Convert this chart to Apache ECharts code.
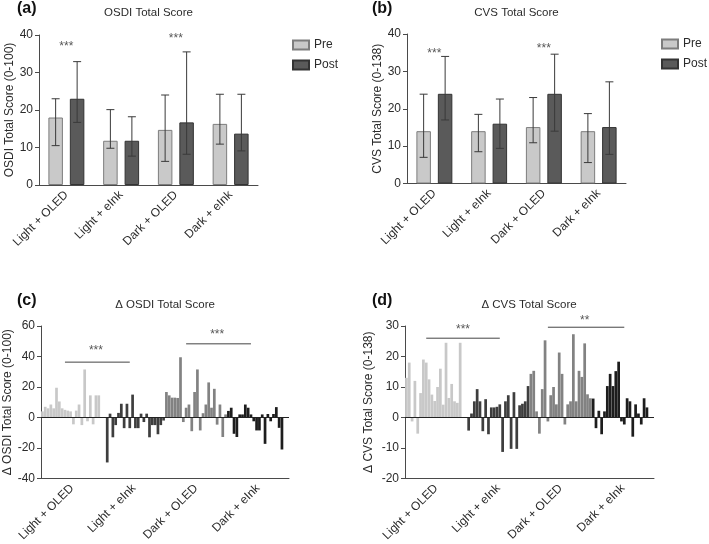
<!DOCTYPE html>
<html><head><meta charset="utf-8">
<script src="https://cdn.jsdelivr.net/npm/echarts@6/dist/echarts.min.js"></script>
<style>html,body{margin:0;padding:0;background:#fff}#c{width:709px;height:544px}</style>
</head><body><div id="c"></div>
<script>
// ---------- data ----------
const groups = ['Light + OLED', 'Light + eInk', 'Dark + OLED', 'Dark + eInk'];

// (a) OSDI
const osdiPre = [18, 11.8, 14.7, 16.3];
const osdiPreLow = [10.5, 9.8, 6.3, 10.9];
const osdiPreHigh = [23, 20.1, 24, 24.2];
const osdiPost = [23, 11.8, 16.7, 13.7];
const osdiPostLow = [16.7, 7.7, 8.2, 9.1];
const osdiPostHigh = [32.9, 18.2, 35.5, 24.2];
const osdiStars = [[0, 37.7], [2, 39.9]];

// (b) CVS
const cvsPre = [14, 14, 15.1, 14];
const cvsPreLow = [7, 8.5, 10.9, 5.6];
const cvsPreHigh = [23.9, 18.5, 23, 18.7];
const cvsPost = [24, 16, 24, 15.1];
const cvsPostLow = [17, 9.4, 14, 7.8];
const cvsPostHigh = [34, 22.6, 34.6, 27.2];
const cvsStars = [[0, 35.6], [2, 37]];

// (c) delta OSDI, per subject
const dOsdiLightOLED = [4, 7, 6, 8.5, 6, 19.5, 10.5, 6, 5, 4.5, 4, -4.5, 4.5, 8.5, -5, 31.5, -2.5, 14.5, -4.5, 14.5, 14.5, 0];
const dOsdiLightEInk = [0, -29.5, 2.5, -13, -5, 3, 9, -7, 9, -7, 15, -7, -7, 2.5, -3, 2.5, -13, -5, -5, -11, -5, -2];
const dOsdiDarkOLED = [16.7, 14.5, 13, 13, 12.8, 39.5, -3, 6.4, 8.5, -9, 16.7, 31.5, -8.5, 2.8, 8.5, 23, 6.4, 18.8, -4.7, 8.5, -12.8, 2];
const dOsdiDarkEInk = [4.3, 6.4, -10.7, -12.8, 2, 2, 8.5, 6.4, 2, -2.5, -8.5, -8.5, 2, -17.3, 2.3, -2.5, 2.3, 6.8, -6.8, -21, 0, 0];
const dOsdiBrackets = [[8, 31, 36.3], [51, 74, 48.3]];
const dOsdiStars = [[19, 45.7, '***'], [62, 56.2, '***']];

// (d) delta CVS, per subject
const dCvsLightOLED = [13, 18, -1.3, 12, -5.3, 8, 19, 18, 12.5, 7.5, 5.4, 10, 16, 4.2, 24.5, 6.4, 11, 5.3, 4.8, 24.5, 0, 0];
const dCvsLightEInk = [-4.3, 1.3, 5.3, 9.3, 5.3, -4.5, 6, -5.5, 3.3, 3.3, 3.5, 4.3, -11.3, 5.3, 7.3, -10.3, 8.3, -10.3, 4, 4.5, 5.3, 10.3];
const dCvsDarkOLED = [14.3, 15.3, 2, -5.3, 9.3, 25.3, -1.3, 7.3, 10, 4.3, 21.3, 14.3, -2.3, 4.3, 5.3, 27.3, 5.3, 15.3, 13.3, 24.3, 7.6, 6.3];
const dCvsDarkEInk = [6.2, -3.5, 2.2, -5.5, 2, 10.3, 14.3, 10.3, 15.2, 18.3, -1.3, -2.3, 6.3, 5.3, -6.3, 4.3, 1.3, -2.3, 6.3, 3.3, 0, 0];
const dCvsBrackets = [[7, 33, 26], [50, 77, 29.6]];
const dCvsStars = [[20, 29.7, '***'], [63, 32.7, '**']];

// ---------- style ----------
const FONT = "'Liberation Sans', Arial, Helvetica, sans-serif";
const TXT = '#2b2b2b';
const AX = '#4a4a4a';
const PRE_C = '#c9c9c9', PRE_B = '#7d7d7d';
const POST_C = '#5a5a5a', POST_B = '#333333';
const GROUP_COLORS = ['#c8c8c8', '#3e3e3e', '#828282', '#1d1d1d'];
const BAR_W = 14.5, BAR_OFF = 10.75;

const grids = [
  {left: 39, top: 35, width: 219, height: 150},
  {left: 407, top: 34, width: 219, height: 149.5},
  {left: 41, top: 326, width: 248, height: 156},
  {left: 405, top: 326, width: 249, height: 153}
];

function catAxis(gi, show) {
  return {
    type: 'category', gridIndex: gi, data: groups, show: show !== false,
    axisLine: {onZero: false, lineStyle: {color: AX, width: 1}},
    axisTick: {alignWithLabel: true, length: 4, lineStyle: {color: AX}},
    axisLabel: {rotate: 45, fontSize: 12, color: TXT, fontFamily: FONT, margin: 8, interval: 0}
  };
}
function subjAxis(gi, n) {
  const names = [];
  groups.forEach(g => { for (let i = 0; i < n; i++) names.push(g + ' #' + (i + 1)); });
  return {type: 'category', gridIndex: gi, data: names, show: false, boundaryGap: true};
}
function valAxis(gi, min, max, interval, name, gap) {
  return {
    type: 'value', gridIndex: gi, min: min, max: max, interval: interval,
    name: name, nameLocation: 'middle', nameRotate: 90, nameGap: gap,
    nameTextStyle: {fontSize: 12, color: TXT, fontFamily: FONT},
    axisLine: {show: true, lineStyle: {color: AX, width: 1}},
    axisTick: {show: true, length: 4, lineStyle: {color: AX}},
    axisLabel: {fontSize: 12, color: TXT, fontFamily: FONT, margin: 6},
    splitLine: {show: false}
  };
}

function errSeries(xi, yi, lows, highs, offset) {
  return {
    type: 'custom', xAxisIndex: xi, yAxisIndex: yi, z: 6, silent: true, clip: false,
    data: lows.map((l, i) => [i, l, highs[i]]),
    renderItem: function (params, api) {
      const lo = api.coord([api.value(0), api.value(1)]);
      const hi = api.coord([api.value(0), api.value(2)]);
      const x = lo[0] + offset;
      const cap = 4;
      const st = {stroke: '#3a3a3a', lineWidth: 1};
      return {type: 'group', children: [
        {type: 'line', shape: {x1: x, y1: lo[1], x2: x, y2: hi[1]}, style: st},
        {type: 'line', shape: {x1: x - cap, y1: lo[1], x2: x + cap, y2: lo[1]}, style: st},
        {type: 'line', shape: {x1: x - cap, y1: hi[1], x2: x + cap, y2: hi[1]}, style: st}
      ]};
    }
  };
}
function starSeries(xi, yi, pts) {
  return {
    type: 'scatter', xAxisIndex: xi, yAxisIndex: yi, silent: true, clip: false, z: 7,
    symbolSize: 1, itemStyle: {color: 'rgba(0,0,0,0)'},
    data: pts.map(p => ({value: [p[0], p[1]], label: {formatter: p[2] || '***'}})),
    label: {show: true, position: 'inside', offset: [0, 3], fontSize: 12, color: TXT, fontFamily: FONT}
  };
}
function groupedSeries(xi, yi, pre, post) {
  return [
    {name: 'Pre', type: 'bar', xAxisIndex: xi, yAxisIndex: yi, data: pre, barWidth: BAR_W, barGap: '48%',
     itemStyle: {color: PRE_C, borderColor: PRE_B, borderWidth: 1}},
    {name: 'Post', type: 'bar', xAxisIndex: xi, yAxisIndex: yi, data: post, barWidth: BAR_W, barGap: '48%',
     itemStyle: {color: POST_C, borderColor: POST_B, borderWidth: 1}}
  ];
}
function deltaSeries(xi, yi, arrs, brackets, stars) {
  const data = [];
  arrs.forEach((arr, g) => arr.forEach(v => data.push({value: v, itemStyle: {color: GROUP_COLORS[g]}})));
  const out = [{
    type: 'bar', xAxisIndex: xi, yAxisIndex: yi, data: data, barCategoryGap: '4%', silent: true,
    markLine: {silent: true, symbol: 'none', label: {show: false},
      lineStyle: {color: '#222', width: 1, type: 'solid'}, data: [{yAxis: 0}]}
  }];
  brackets.forEach(b => out.push({
    type: 'line', xAxisIndex: xi, yAxisIndex: yi, silent: true, clip: false, z: 6,
    data: [[b[0], b[2]], [b[1], b[2]]],
    symbol: 'rect', symbolSize: [1.2, 7], itemStyle: {color: '#444'},
    lineStyle: {color: '#444', width: 1}
  }));
  out.push(starSeries(xi, yi, stars));
  return out;
}
function legendAt(left, top) {
  return {data: ['Pre', 'Post'], orient: 'vertical', left: left, top: top, padding: 0,
    icon: 'rect', itemWidth: 16, itemHeight: 9, itemGap: 8,
    textStyle: {fontSize: 12, color: TXT, fontFamily: FONT}, selectedMode: false};
}

const N = dOsdiLightOLED.length;
const option = {
  animation: false,
  backgroundColor: '#ffffff',
  textStyle: {fontFamily: FONT},
  grid: grids,
  xAxis: [
    catAxis(0), catAxis(1),
    catAxis(2), subjAxis(2, N),
    catAxis(3), subjAxis(3, N)
  ],
  yAxis: [
    valAxis(0, 0, 40, 10, 'OSDI Total Score (0-100)', 21),
    valAxis(1, 0, 40, 10, 'CVS Total Score (0-138)', 19),
    valAxis(2, -40, 60, 20, 'Δ OSDI Total Score (0-100)', 24),
    valAxis(3, -20, 30, 10, 'Δ CVS Total Score (0-138)', 30)
  ],
  legend: [legendAt(292, 39), legendAt(661, 38)],
  graphic: [
    {type: 'text', left: 17, top: 1, style: {text: '(a)', font: 'bold 16px ' + FONT, fill: '#111'}},
    {type: 'text', left: 372, top: 1, style: {text: '(b)', font: 'bold 16px ' + FONT, fill: '#111'}},
    {type: 'text', left: 17, top: 293, style: {text: '(c)', font: 'bold 16px ' + FONT, fill: '#111'}},
    {type: 'text', left: 372, top: 293, style: {text: '(d)', font: 'bold 16px ' + FONT, fill: '#111'}},
    {type: 'text', x: 148.5, y: 13, style: {text: 'OSDI Total Score', font: '11.5px ' + FONT, fill: TXT, textAlign: 'center', textVerticalAlign: 'middle'}},
    {type: 'text', x: 516.5, y: 13, style: {text: 'CVS Total Score', font: '11.5px ' + FONT, fill: TXT, textAlign: 'center', textVerticalAlign: 'middle'}},
    {type: 'text', x: 165, y: 305, style: {text: 'Δ OSDI Total Score', font: '11.5px ' + FONT, fill: TXT, textAlign: 'center', textVerticalAlign: 'middle'}},
    {type: 'text', x: 529, y: 305, style: {text: 'Δ CVS Total Score', font: '11.5px ' + FONT, fill: TXT, textAlign: 'center', textVerticalAlign: 'middle'}}
  ],
  series: [].concat(
    groupedSeries(0, 0, osdiPre, osdiPost),
    [errSeries(0, 0, osdiPreLow, osdiPreHigh, -BAR_OFF), errSeries(0, 0, osdiPostLow, osdiPostHigh, BAR_OFF),
     starSeries(0, 0, osdiStars)],
    groupedSeries(1, 1, cvsPre, cvsPost),
    [errSeries(1, 1, cvsPreLow, cvsPreHigh, -BAR_OFF), errSeries(1, 1, cvsPostLow, cvsPostHigh, BAR_OFF),
     starSeries(1, 1, cvsStars)],
    deltaSeries(3, 2, [dOsdiLightOLED, dOsdiLightEInk, dOsdiDarkOLED, dOsdiDarkEInk], dOsdiBrackets, dOsdiStars),
    deltaSeries(5, 3, [dCvsLightOLED, dCvsLightEInk, dCvsDarkOLED, dCvsDarkEInk], dCvsBrackets, dCvsStars)
  )
};
const chart = echarts.init(document.getElementById('c'), null, {renderer: 'canvas'});
chart.setOption(option);
</script>
</body></html>
